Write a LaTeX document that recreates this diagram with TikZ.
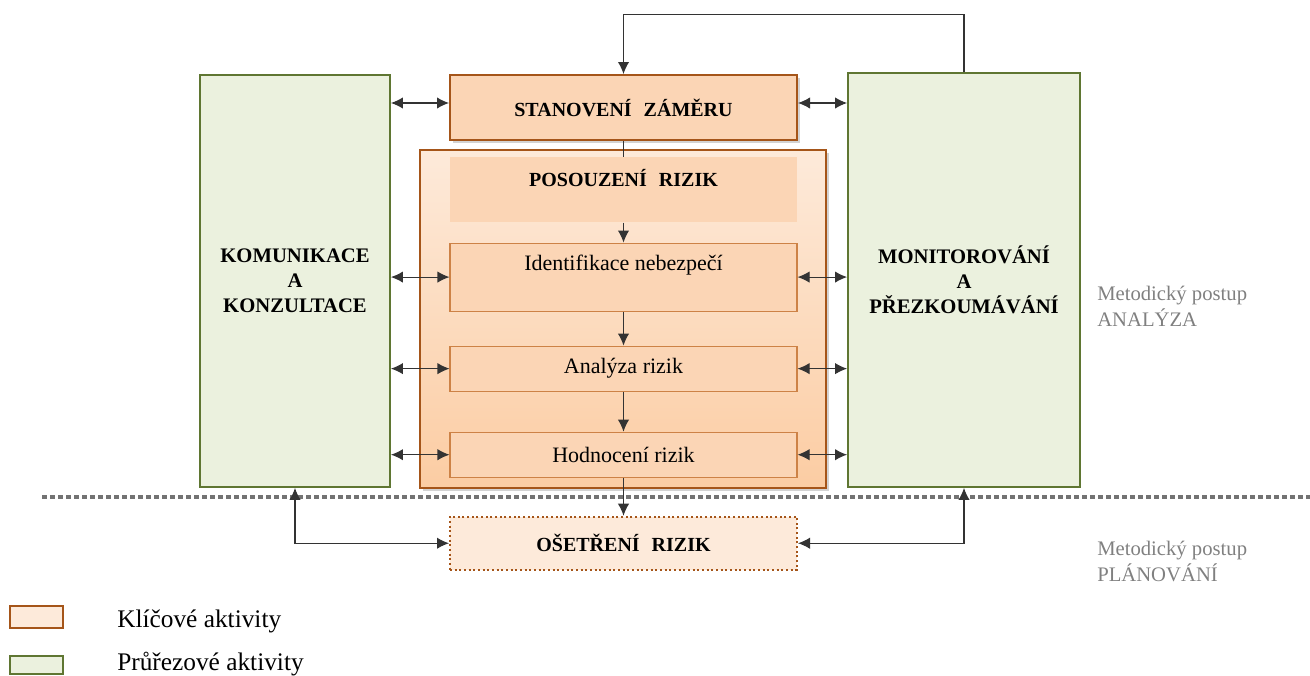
\documentclass[tikz,border=0pt]{standalone}
\usepackage{fontspec}
\setmainfont{Liberation Serif}
\usepackage{tikz}
\usetikzlibrary{arrows.meta, positioning, shadows}

\definecolor{keybrown}{RGB}{165,85,25}
\definecolor{keyline}{RGB}{205,130,70}
\definecolor{keyfill}{RGB}{251,213,181}
\definecolor{keylight}{RGB}{253,234,218}
\definecolor{crossgreen}{RGB}{95,118,50}
\definecolor{crossfill}{RGB}{235,241,222}
\definecolor{notegray}{RGB}{128,128,128}

\begin{document}
\begin{tikzpicture}[x=0.75pt, y=-0.75pt,
  crossbox/.style={rectangle, draw=crossgreen, line width=1.4pt, fill=crossfill,
                   align=center, font=\fontsize{15.5}{18.75}\selectfont\bfseries},
  keybox/.style={rectangle, draw=keybrown, line width=1.5pt, fill=keyfill,
                 minimum width=260.25pt, minimum height=48.75pt,
                 font=\fontsize{15}{18}\selectfont\bfseries,
                 drop shadow={shadow xshift=2pt, shadow yshift=-2pt, opacity=0.35}},
  stepbox/.style={rectangle, draw=keyline, line width=0.8pt, fill=keyfill,
                  minimum width=260.25pt, minimum height=33.75pt, inner sep=0pt,
                  font=\fontsize{16.5}{19}\selectfont},
  arr/.style={-{Latex[length=9pt,width=8.5pt]}, line width=0.8pt, black!80},
  dblarr/.style={{Latex[length=9pt,width=8.5pt]}-{Latex[length=9pt,width=8.5pt]},
                 line width=0.8pt, black!80},
  note/.style={anchor=base west, align=left, text=notegray, inner sep=0pt,
               font=\fontsize{15.5}{19}\selectfont},
  keytext/.style={anchor=base west, inner sep=0pt, font=\fontsize{19}{22}\selectfont}
]
\useasboundingbox (0,0) rectangle (1310,675);

% Cross-cutting activities
\node[crossbox, minimum width=142.5pt, minimum height=309pt] (kom) at (295,281)
  {KOMUNIKACE\\A\\KONZULTACE};
\node[crossbox, minimum width=174pt, minimum height=310.5pt] (mon) at (964,280)
  {MONITOROVÁNÍ\\A\\PŘEZKOUMÁVÁNÍ};

% Key activities
\node[keybox] (zam) at (623.5,107.5) {STANOVENÍ\hspace{0.6em}ZÁMĚRU};

\node[rectangle, draw=keybrown, line width=1.5pt, top color=keylight, bottom color=keyfill!90!orange,
      minimum width=304.5pt, minimum height=253.5pt,
      drop shadow={shadow xshift=2pt, shadow yshift=-2pt, opacity=0.35}] (pos) at (623,319) {};

\node[rectangle, fill=keyfill, minimum width=260.25pt, inner sep=0pt,
      text height=22pt, text depth=26.75pt,
      font=\fontsize{15}{18}\selectfont\bfseries, anchor=north] (poshead) at (623.5,157)
  {POSOUZENÍ\hspace{0.6em}RIZIK};

\node[stepbox, text height=20.25pt, text depth=30.75pt, below=15pt of poshead] (ide)
  {Identifikace nebezpečí};
\node[stepbox, below=25.5pt of ide] (ana) {Analýza rizik};
\node[stepbox, below=30pt of ana] (hod) {Hodnocení rizik};

\node[rectangle, draw=keybrown, line width=1.5pt, dotted, fill=keylight,
      minimum width=260.25pt, minimum height=39.75pt,
      font=\fontsize{15}{18}\selectfont\bfseries, below=28.5pt of hod] (ose)
  {OŠETŘENÍ\hspace{0.6em}RIZIK};

% Border between the two procedures
\coordinate (sepL) at (42,497);
\coordinate (sepR) at (1310,497);
\draw[notegray!90!black, line width=3pt, dash pattern=on 3.5pt off 2.5pt] (sepL) -- (sepR);

% Flow down the chain
\draw[arr] (mon.north) -- ++(0,-58) -| (zam.north);
\draw[line width=0.8pt, black!80] (zam.south) -- (poshead.north);
\draw[arr] (poshead.south) -- (ide.north);
\draw[arr] (ide.south) -- (ana.north);
\draw[arr] (ana.south) -- (hod.north);
\draw[arr] (hod.south) -- (ose.north);

% Links to the cross-cutting activities
\foreach \n in {ide, ana, hod}{
  \draw[dblarr] (kom.east |- \n.west) -- (\n.west);
  \draw[dblarr] (\n.east) -- (mon.west |- \n.east);
}
\draw[dblarr] (kom.east |- 0,103) -- (zam.west |- 0,103);
\draw[dblarr] (zam.east |- 0,103) -- (mon.west |- 0,103);
\draw[dblarr] (kom.south) |- (ose.west);
\draw[dblarr] (mon.south) |- (ose.east);

% Procedure notes
\node[note] (noteA) at (1097,326) {Metodický postup\\ANALÝZA};
\node[note] (noteP) at (1097,581) {Metodický postup\\PLÁNOVÁNÍ};

% Legend
\node[rectangle, draw=keybrown, line width=1.5pt, fill=keylight,
      minimum width=39.75pt, minimum height=16.5pt] (keyS) at (36.5,617) {};
\node[keytext] (keySlbl) at (117,627) {Klíčové aktivity};
\node[rectangle, draw=crossgreen, line width=1.5pt, fill=crossfill,
      minimum width=39.75pt, minimum height=14pt] (keyG) at (36.5,665) {};
\node[keytext] (keyGlbl) at (117,670) {Průřezové aktivity};
\end{tikzpicture}
\end{document}
